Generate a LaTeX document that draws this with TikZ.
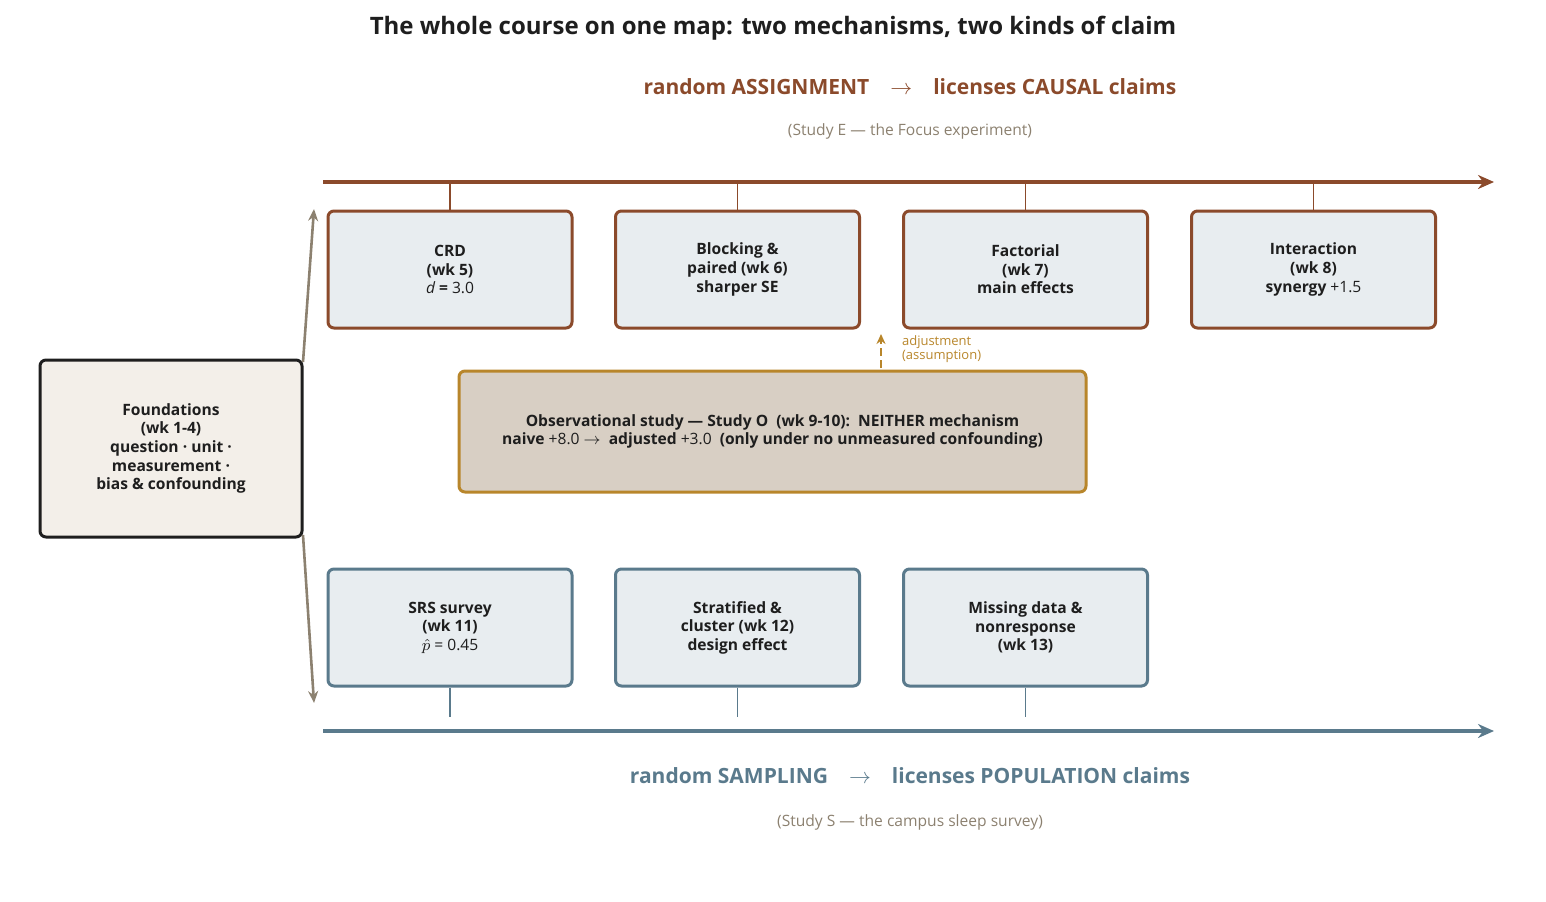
\documentclass[tikz,border=0pt]{standalone}
\usepackage{fontspec}
\setmainfont{Open Sans}
\usetikzlibrary{arrows.meta}
\definecolor{rust}{HTML}{8B4A2B}
\definecolor{slate}{HTML}{5A7A8C}
\definecolor{taupe}{HTML}{8C8170}
\definecolor{gold}{HTML}{B8862B}
\definecolor{boxfill}{HTML}{E8EDF0}
\definecolor{found}{HTML}{F3EFE9}
\definecolor{obs}{HTML}{D8CFC4}
\definecolor{ink}{HTML}{1E1E1E}
\begin{document}
\begin{tikzpicture}[x=0.5pt,y=-0.5pt,
  box/.style={draw=#1,fill=boxfill,line width=1.5pt,rounded corners=3pt,minimum width=122pt,minimum height=58.5pt,align=center,font=\fontsize{7.8}{9.3}\selectfont\bfseries,text=ink},
  tick/.style={draw=#1,line width=0.8pt},
  axis/.style={draw=#1,line width=2.4pt,-{Stealth[length=8pt,width=7pt]}},
  head/.style={font=\fontsize{10.5}{12}\selectfont\bfseries,text=#1},
  sub/.style={font=\fontsize{7.8}{9}\selectfont,text=taupe}]
\useasboundingbox (0,0) rectangle (1546,901);
\node[font=\fontsize{12}{14}\selectfont\bfseries,text=ink] (title) at (773,28) {The whole course on one map: two mechanisms, two kinds of claim};
\node[head=rust] (ha) at (910,87) {random ASSIGNMENT\quad$\rightarrow$\quad licenses CAUSAL claims};
\node[sub] (sa) at (910,131) {(Study E — the Focus experiment)};
\coordinate (a0) at (323,182); \coordinate (a1) at (1494,182);
\draw[axis=rust] (a0) -- (a1);
\node[box=rust] (b1) at (450,269.5) {CRD\\(wk 5)\\\mdseries\itshape d\upshape\ \bfseries=\mdseries\ 3.0};
\node[box=rust] (b2) at (737.5,269.5) {Blocking \&\\paired (wk 6)\\sharper SE};
\node[box=rust] (b3) at (1025.5,269.5) {Factorial\\(wk 7)\\main effects};
\node[box=rust] (b4) at (1313.5,269.5) {Interaction\\(wk 8)\\synergy \mdseries+1.5};
\foreach \b in {b1,b2,b3,b4} \draw[tick=rust] (\b.north) -- (\b.north |- a0);
\node[box=ink,fill=found,minimum width=131pt,minimum height=88.5pt] (f) at (171,448.5) {Foundations\\(wk 1-4)\\question · unit ·\\measurement ·\\bias \& confounding};
\coordinate (g1) at (314,209); \coordinate (g2) at (314,703);
\draw[draw=taupe,line width=1.3pt,-{Stealth[length=6pt,width=5pt]}] (303,362) -- (g1);
\draw[draw=taupe,line width=1.3pt,-{Stealth[length=6pt,width=5pt]}] (303,535) -- (g2);
\node[box=gold,fill=obs,minimum width=313.5pt,minimum height=60.5pt] (o) at (772.5,431.5) {Observational study — Study O\ \ (wk 9-10):\ \ NEITHER mechanism\\naive \mdseries+8.0\ \bfseries$\rightarrow$\ \ adjusted \mdseries+3.0\ \ \bfseries(only under no unmeasured confounding)};
\coordinate (adj) at (881,334);
\draw[draw=gold,line width=1.4pt,dash pattern=on 4pt off 2pt,-{Stealth[length=5pt,width=4.5pt]}] (881,368) -- (adj);
\node[anchor=west,align=left,font=\fontsize{6.5}{7.3}\selectfont,text=gold] (al) at (895,349) {adjustment\\(assumption)};
\node[box=slate] (c1) at (450,627.5) {SRS survey\\(wk 11)\\\mdseries$\hat{p}$\ =\ 0.45};
\node[box=slate] (c2) at (737.5,627.5) {Stratified \&\\cluster (wk 12)\\design effect};
\node[box=slate] (c3) at (1025.5,627.5) {Missing data \&\\nonresponse\\(wk 13)};
\coordinate (s0) at (323,731); \coordinate (s1) at (1494,731);
\draw[axis=slate] (s0) -- (s1);
\foreach \c in {c1,c2,c3} \draw[tick=slate] (\c.south) -- ++(0,29);
\node[head=slate] (hs) at (910,776) {random SAMPLING\quad$\rightarrow$\quad licenses POPULATION claims};
\node[sub] (ss) at (910,822) {(Study S — the campus sleep survey)};
\end{tikzpicture}
\end{document}
